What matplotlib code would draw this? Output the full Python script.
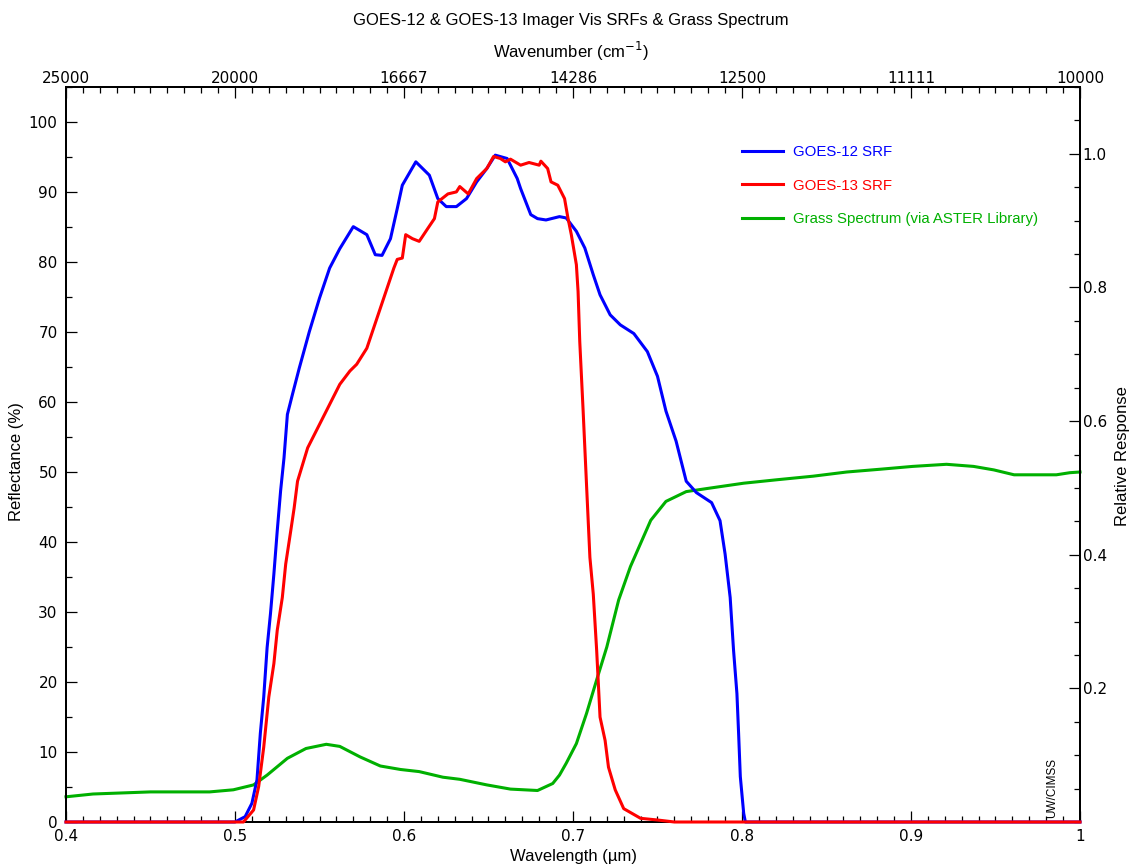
import matplotlib
matplotlib.use("Agg")
import matplotlib.pyplot as plt
from matplotlib.ticker import MultipleLocator

# ---- data ----
goes12_wl = [0.400, 0.500, 0.506, 0.510, 0.513, 0.515, 0.517, 0.519, 0.521, 0.523,
             0.525, 0.527, 0.529, 0.531, 0.534, 0.538, 0.544, 0.550, 0.556, 0.562,
             0.570, 0.578, 0.583, 0.587, 0.592, 0.596, 0.599, 0.607, 0.615, 0.620,
             0.625, 0.631, 0.637, 0.643, 0.649, 0.654, 0.661, 0.667, 0.669, 0.675,
             0.679, 0.684, 0.692, 0.696, 0.702, 0.707, 0.712, 0.716, 0.722, 0.728,
             0.736, 0.744, 0.750, 0.755, 0.761, 0.767, 0.773, 0.782, 0.787, 0.790,
             0.793, 0.795, 0.797, 0.798, 0.799, 0.801, 0.802, 1.000]
goes12_resp = [0.0, 0.0, 0.008, 0.028, 0.063, 0.133, 0.187, 0.261, 0.312, 0.371,
               0.436, 0.496, 0.545, 0.610, 0.640, 0.679, 0.734, 0.784, 0.829, 0.858,
               0.891, 0.879, 0.849, 0.848, 0.873, 0.918, 0.953, 0.988, 0.968, 0.933,
               0.921, 0.921, 0.933, 0.958, 0.978, 0.998, 0.993, 0.963, 0.948, 0.909,
               0.903, 0.901, 0.906, 0.904, 0.884, 0.859, 0.819, 0.789, 0.759, 0.744,
               0.731, 0.704, 0.667, 0.615, 0.570, 0.510, 0.493, 0.478, 0.451, 0.401,
               0.336, 0.257, 0.192, 0.132, 0.068, 0.013, 0.0, 0.0]

goes13_wl = [0.400, 0.505, 0.506, 0.511, 0.514, 0.517, 0.520, 0.523, 0.525, 0.528,
             0.530, 0.533, 0.535, 0.537, 0.540, 0.543, 0.548, 0.554, 0.559, 0.562,
             0.568, 0.572, 0.578, 0.582, 0.586, 0.590, 0.594, 0.596, 0.599, 0.601,
             0.605, 0.609, 0.614, 0.618, 0.620, 0.626, 0.631, 0.633, 0.638, 0.643,
             0.649, 0.653, 0.657, 0.660, 0.663, 0.669, 0.674, 0.680, 0.681, 0.685,
             0.687, 0.691, 0.695, 0.697, 0.699, 0.702, 0.703, 0.704, 0.706, 0.708,
             0.710, 0.712, 0.714, 0.715, 0.716, 0.719, 0.721, 0.725, 0.730, 0.740,
             0.750, 0.760, 1.000]
goes13_resp = [0.0, 0.0, 0.003, 0.018, 0.053, 0.112, 0.187, 0.237, 0.287, 0.336,
               0.386, 0.436, 0.470, 0.510, 0.535, 0.560, 0.585, 0.615, 0.640, 0.655,
               0.675, 0.685, 0.709, 0.739, 0.769, 0.799, 0.829, 0.842, 0.844, 0.879,
               0.873, 0.869, 0.888, 0.903, 0.928, 0.940, 0.943, 0.951, 0.940, 0.963,
               0.978, 0.996, 0.993, 0.988, 0.992, 0.983, 0.987, 0.983, 0.989, 0.978,
               0.958, 0.953, 0.933, 0.904, 0.879, 0.834, 0.794, 0.719, 0.615, 0.505,
               0.396, 0.341, 0.257, 0.207, 0.157, 0.122, 0.082, 0.048, 0.020, 0.0055,
               0.003, 0.0, 0.0]

grass_wl = [0.400, 0.416, 0.450, 0.485, 0.499, 0.511, 0.519, 0.531, 0.542, 0.554,
            0.562, 0.574, 0.586, 0.598, 0.609, 0.623, 0.633, 0.649, 0.663, 0.679,
            0.688, 0.692, 0.696, 0.702, 0.708, 0.714, 0.720, 0.727, 0.734, 0.740,
            0.746, 0.755, 0.767, 0.781, 0.801, 0.821, 0.842, 0.862, 0.882, 0.901,
            0.921, 0.937, 0.949, 0.961, 0.986, 0.994, 1.000]
grass_refl = [3.6, 4.0, 4.3, 4.3, 4.6, 5.3, 6.7, 9.1, 10.5, 11.1,
              10.8, 9.3, 8.0, 7.5, 7.2, 6.4, 6.1, 5.3, 4.7, 4.5,
              5.5, 6.7, 8.4, 11.2, 15.5, 20.3, 25.0, 31.7, 36.5, 39.8,
              43.1, 45.8, 47.2, 47.7, 48.4, 48.9, 49.4, 50.0, 50.4, 50.8,
              51.1, 50.8, 50.3, 49.6, 49.6, 49.9, 50.0]

wl_ticks = [0.4, 0.5, 0.6, 0.7, 0.8, 0.9, 1.0]
wl_labels = ["0.4", "0.5", "0.6", "0.7", "0.8", "0.9", "1"]
wn_labels = [f"{1e4 / w:.0f}" for w in wl_ticks]
refl_ticks = list(range(0, 101, 10))
resp_ticks = [0.2, 0.4, 0.6, 0.8, 1.0]
resp_labels = ["0.2", "0.4", "0.6", "0.8", "1.0"]

series_names = ["GOES-12 SRF", "GOES-13 SRF", "Grass Spectrum (via ASTER Library)"]
BLUE, RED, GREEN = "#0000ff", "#ff0000", "#00b000"

TICKFONT = ["Liberation Sans Narrow", "DejaVu Sans"]
LABFONT = ["Liberation Sans", "DejaVu Sans"]

W, H = 1133, 867
fig = plt.figure(figsize=(W / 100, H / 100), dpi=100)
ax = fig.add_axes([66 / W, 45 / H, 1014 / W, 735 / H])
ax2 = ax.twinx()

lg, = ax.plot(grass_wl, grass_refl, color=GREEN, lw=2.2, clip_on=False, zorder=3)
lb, = ax2.plot(goes12_wl, goes12_resp, color=BLUE, lw=2.2, clip_on=False, zorder=3)
lr, = ax2.plot(goes13_wl, goes13_resp, color=RED, lw=2.2, clip_on=False, zorder=4)

ax.set_xlim(0.4, 1.0)
ax.set_ylim(0, 105)
ax2.set_ylim(0, 1.1)

for a in (ax, ax2):
    for s in a.spines.values():
        s.set_linewidth(1.4)
        s.set_color("black")

# bottom x axis
ax.set_xticks(wl_ticks, labels=wl_labels)
ax.xaxis.set_minor_locator(MultipleLocator(0.01))
ax.tick_params(axis="x", which="major", direction="in", length=8, width=0.9,
               pad=5, labelsize=11, labelfontfamily=TICKFONT)
ax.tick_params(axis="x", which="minor", direction="in", length=4, width=0.9)

# left y axis
ax.set_yticks(refl_ticks, labels=[str(v) for v in refl_ticks])
ax.yaxis.set_minor_locator(MultipleLocator(5))
ax.tick_params(axis="y", which="major", direction="in", length=8, width=0.9,
               pad=6, labelsize=11, labelfontfamily=TICKFONT)
ax.tick_params(axis="y", which="minor", direction="in", length=4, width=0.9)

# right y axis
ax2.set_yticks(resp_ticks, labels=resp_labels)
ax2.yaxis.set_minor_locator(MultipleLocator(0.05))
ax2.tick_params(axis="y", which="major", direction="in", length=8, width=0.9,
                pad=2, labelsize=11, labelfontfamily=TICKFONT)
ax2.tick_params(axis="y", which="minor", direction="in", length=4, width=0.9)

# top wavenumber axis
sec = ax.secondary_xaxis("top")
sec.set_xticks(wl_ticks, labels=wn_labels)
sec.xaxis.set_minor_locator(MultipleLocator(0.01))
sec.tick_params(axis="x", which="major", direction="in", length=8, width=0.9,
                pad=1, labelsize=11, labelfontfamily=TICKFONT)
sec.tick_params(axis="x", which="minor", direction="in", length=4, width=0.9)
sec.spines["top"].set_linewidth(1.4)

# texts
def fx(px):
    return px / W

def fy(py):
    return 1 - py / H

fig.text(fx(571), fy(25), "GOES-12 & GOES-13 Imager Vis SRFs & Grass Spectrum",
         ha="center", va="baseline", fontsize=12, family=LABFONT)
fig.text(fx(571), fy(58), "Wavenumber (cm$^{-1}$)", ha="center", va="baseline",
         fontsize=12, family=LABFONT)
fig.text(fx(573), fy(861), "Wavelength (\u00b5m)", ha="center", va="baseline",
         fontsize=12, family=LABFONT)
fig.text(fx(17), fy(462), "Reflectance (%)", ha="center", va="center",
         rotation=90, fontsize=12, family=LABFONT)
fig.text(fx(1123), fy(456), "Relative Response", ha="center", va="center",
         rotation=90, fontsize=12, family=LABFONT)
fig.text(fx(1052), fy(818), "UW/CIMSS", ha="center", va="bottom",
         rotation=90, fontsize=8.5, family=LABFONT)

leg = ax2.legend([lb, lr, lg], series_names, loc="upper left",
                 bbox_to_anchor=(fx(742), fy(145)), bbox_transform=fig.transFigure,
                 frameon=False, borderpad=0, borderaxespad=0, handlelength=2.75,
                 handletextpad=0.65, labelspacing=1.3, labelcolor="linecolor",
                 prop={"family": LABFONT, "size": 10.8})

fig.savefig("out.png", dpi=100)
